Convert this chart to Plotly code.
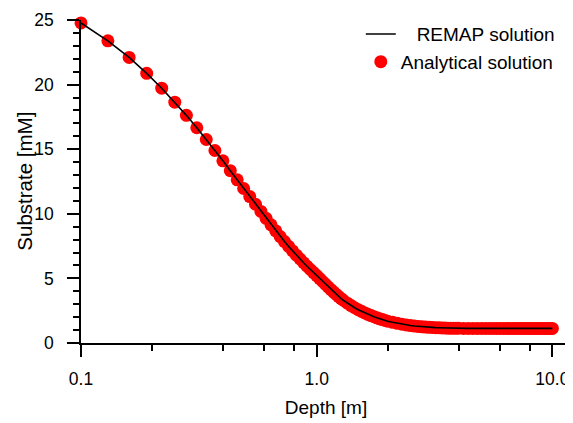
import plotly.graph_objects as go

# Depth [m] sample points of the analytical solution
depth = [0.10, 0.13, 0.16, 0.19, 0.22, 0.25, 0.28, 0.31, 0.34, 0.37,
         0.40, 0.43, 0.46, 0.49, 0.52, 0.55, 0.58, 0.61, 0.64, 0.67,
         0.70, 0.73, 0.76, 0.79, 0.82, 0.85, 0.88, 0.91, 0.94, 0.97,
         1.00, 1.03, 1.06, 1.09, 1.12, 1.15, 1.18, 1.21, 1.24, 1.27,
         1.30, 1.35, 1.40, 1.45, 1.50, 1.55, 1.60, 1.65, 1.70, 1.75,
         1.80, 1.85, 1.90, 1.95, 2.00, 2.1, 2.2, 2.3, 2.4, 2.5,
         2.6, 2.7, 2.8, 2.9, 3.0, 3.1, 3.2, 3.3, 3.4, 3.5,
         3.6, 3.7, 3.8, 3.9, 4.0, 4.2, 4.4, 4.6, 4.8, 5.0,
         5.2, 5.4, 5.6, 5.8, 6.0, 6.2, 6.4, 6.6, 6.8, 7.0,
         7.2, 7.4, 7.6, 7.8, 8.0, 8.2, 8.4, 8.6, 8.8, 9.0,
         9.2, 9.4, 9.6, 9.8, 10.0]

# Substrate [mM], analytical solution
analytical = [24.77, 23.39, 22.10, 20.87, 19.72, 18.64, 17.62, 16.66, 15.75, 14.90,
              14.10, 13.34, 12.63, 11.96, 11.33, 10.74, 10.18, 9.65, 9.15, 8.68,
              8.24, 7.85, 7.48, 7.13, 6.80, 6.50, 6.21, 5.94, 5.69, 5.45,
              5.22, 4.99, 4.76, 4.54, 4.33, 4.13, 3.94, 3.76, 3.59, 3.43,
              3.29, 3.08, 2.90, 2.73, 2.58, 2.45, 2.33, 2.22, 2.12, 2.03,
              1.95, 1.87, 1.81, 1.75, 1.69, 1.60, 1.52, 1.45, 1.40, 1.35,
              1.31, 1.28, 1.25, 1.23, 1.21, 1.20, 1.19, 1.18, 1.17, 1.16,
              1.15, 1.15, 1.14, 1.14, 1.14, 1.13, 1.13, 1.13, 1.13, 1.13,
              1.13, 1.13, 1.13, 1.13, 1.13, 1.13, 1.13, 1.13, 1.13, 1.13,
              1.13, 1.13, 1.13, 1.13, 1.13, 1.13, 1.13, 1.13, 1.13, 1.13,
              1.13, 1.13, 1.13, 1.13, 1.13]

# REMAP numerical solution (follows the analytical curve)
remap_depth = depth
remap = analytical

x_tickvals = [0.1, 1.0, 10.0]
x_ticktext = ["0.1", "1.0", "10.0"]
x_minor = [0.2, 0.4, 0.6, 0.8, 2, 4, 6, 8]
y_tickvals = [0, 5, 10, 15, 20, 25]

FONT = "Liberation Sans, Arial, sans-serif"

fig = go.Figure()
fig.add_trace(go.Scatter(
    x=depth, y=analytical, mode="markers", name="Analytical solution",
    marker=dict(color="#ff0000", size=13, line=dict(width=0)),
    cliponaxis=False,
))
fig.add_trace(go.Scatter(
    x=remap_depth, y=remap, mode="lines", name="\u00a0\u00a0\u00a0REMAP solution",
    line=dict(color="black", width=1.6),
    cliponaxis=False,
))

# the page body has an 8px margin, so the figure is 8px smaller than the window
fig.update_layout(
    width=565, height=415,
    margin=dict(l=73, r=2, t=9, b=80),
    paper_bgcolor="white", plot_bgcolor="white",
    font=dict(family=FONT, size=18, color="black"),
    legend=dict(
        x=0.571, y=1.015, xanchor="left", yanchor="top",
        traceorder="reversed",
        bgcolor="rgba(0,0,0,0)", font=dict(size=19),
    ),
    xaxis=dict(
        type="log", range=[-1, 1.079],
        tickmode="array", tickvals=x_tickvals, ticktext=x_ticktext,
        ticks="outside", ticklen=12, tickwidth=1.6, tickcolor="black",
        showline=True, linecolor="black", linewidth=1.6,
        showgrid=False, zeroline=False,
        tickfont=dict(size=17.5), ticklabelstandoff=7,
        ticklabeloverflow="allow",
        title=dict(text="Depth [m]", font=dict(size=19), standoff=13),
        minor=dict(tickmode="array", tickvals=x_minor, ticks="outside",
                   ticklen=6, tickwidth=1.6, tickcolor="black", showgrid=False),
    ),
    yaxis=dict(
        range=[0, 25],
        tickmode="array", tickvals=y_tickvals,
        ticks="outside", ticklen=12, tickwidth=1.6, tickcolor="black",
        showline=True, linecolor="black", linewidth=1.6,
        showgrid=False, zeroline=False,
        tickfont=dict(size=17.5), ticklabelstandoff=10,
        ticklabeloverflow="allow",
        minor=dict(dtick=1, ticks="outside", ticklen=6, tickwidth=1.6,
                   tickcolor="black", showgrid=False),
    ),
    annotations=[dict(
        text="Substrate [mM]", textangle=-90, font=dict(size=20.5),
        xref="paper", yref="paper", x=-0.116, y=0.5,
        xanchor="center", yanchor="middle", showarrow=False,
    )],
)

fig.write_html("out.html")
